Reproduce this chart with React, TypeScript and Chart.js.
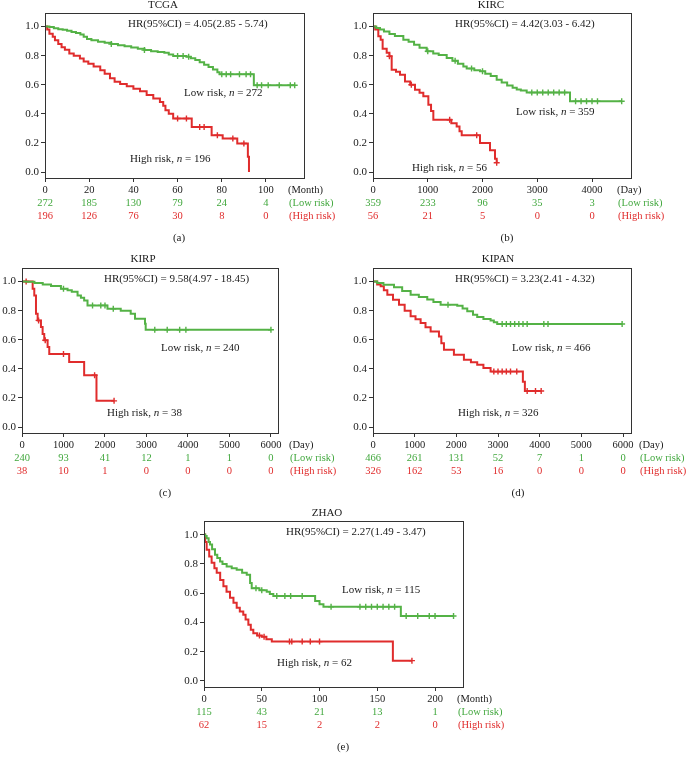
import React, { useEffect, useRef } from "react";
import { Chart, registerables } from "chart.js";
Chart.register(...registerables);

const FONT = '"Liberation Serif", "DejaVu Serif", serif';
const GREEN = "rgb(84,178,70)";
const RED = "rgb(224,44,44)";
const TXT_GREEN = "rgb(66,168,62)";
const TXT_RED = "rgb(224,44,44)";
const INK = "#1a1a1a";

const Y_TICKS = [0, 0.2, 0.4, 0.6, 0.8, 1.0];

// ---- TCGA (months) ----
const TCGA_TICKS = [0, 20, 40, 60, 80, 100];
const TCGA_RISK_LOW = [272, 185, 130, 79, 24, 4];
const TCGA_RISK_HIGH = [196, 126, 76, 30, 8, 0];
const TCGA_LOW = [
  [0, 1], [2, 0.996], [4, 0.989], [6, 0.982], [8, 0.978], [10, 0.971], [12, 0.963], [14, 0.955],
  [16, 0.945], [17.5, 0.93], [19, 0.915], [21, 0.905], [24, 0.895], [27, 0.888], [30, 0.88, 1],
  [33, 0.872], [36, 0.865], [39, 0.856], [42, 0.848], [45, 0.838, 1], [48, 0.83], [51, 0.825],
  [54, 0.82], [56, 0.808], [58, 0.797], [60, 0.797, 1], [62.5, 0.797, 1], [64, 0.793], [65, 0.793, 1],
  [66, 0.782], [68, 0.77], [70, 0.755], [72, 0.738], [74, 0.722], [76, 0.705], [78, 0.685],
  [79, 0.672], [80, 0.672, 1], [82, 0.672, 1], [84, 0.672, 1], [88, 0.672, 1], [91, 0.672, 1],
  [93, 0.672, 1], [94.5, 0.596], [96, 0.596, 1], [98, 0.596, 1], [101, 0.596, 1], [106, 0.596, 1],
  [111, 0.596, 1], [113, 0.596, 1],
];
const TCGA_HIGH = [
  [0, 1], [1, 0.98], [2, 0.95], [3.5, 0.93], [4.5, 0.905], [6, 0.88], [7.5, 0.858], [9, 0.84],
  [11, 0.815], [13, 0.8], [15.8, 0.78], [17.5, 0.76], [19.6, 0.744], [22, 0.725], [25, 0.7],
  [27, 0.675], [29.4, 0.645], [31.5, 0.62], [34, 0.605], [37, 0.59], [40, 0.573], [43, 0.555],
  [46, 0.53], [49, 0.505], [52, 0.482], [53.5, 0.455], [54.5, 0.425], [56, 0.4], [58, 0.368],
  [60, 0.368, 1], [64, 0.368, 1], [66.4, 0.31], [70, 0.31, 1], [72, 0.31, 1], [75.4, 0.253],
  [78, 0.253, 1], [80.4, 0.23], [85, 0.23, 1], [87, 0.196], [90, 0.196, 1], [91.8, 0.105],
  [92.3, 0],
];

// ---- KIRC (days) ----
const KIRC_TICKS = [0, 1000, 2000, 3000, 4000];
const KIRC_RISK_LOW = [359, 233, 96, 35, 3];
const KIRC_RISK_HIGH = [56, 21, 5, 0, 0];
const KIRC_LOW = [
  [0, 1], [60, 0.99], [128, 0.979], [200, 0.965], [300, 0.948], [400, 0.935], [554, 0.91],
  [650, 0.895], [750, 0.875], [850, 0.855], [980, 0.83], [1000, 0.83, 1], [1100, 0.815],
  [1200, 0.805], [1346, 0.784], [1450, 0.765], [1500, 0.765, 1], [1550, 0.745], [1650, 0.725],
  [1711, 0.712], [1800, 0.712, 1], [1850, 0.7], [1954, 0.692], [2000, 0.692, 1], [2050, 0.675],
  [2150, 0.66], [2259, 0.635], [2350, 0.615], [2450, 0.595], [2550, 0.58], [2625, 0.568],
  [2700, 0.56], [2807, 0.547], [2900, 0.547, 1], [3000, 0.547, 1], [3100, 0.547, 1],
  [3200, 0.547, 1], [3300, 0.547, 1], [3400, 0.547, 1], [3500, 0.547, 1], [3598, 0.486],
  [3700, 0.486, 1], [3800, 0.486, 1], [3900, 0.486, 1], [4000, 0.486, 1], [4100, 0.486, 1],
  [4542, 0.486, 1],
];
const KIRC_HIGH = [
  [0, 1], [40, 0.98], [97, 0.933], [140, 0.91], [176, 0.848], [250, 0.82], [300, 0.796, 1],
  [341, 0.703], [420, 0.69], [493, 0.669], [584, 0.623], [680, 0.6], [700, 0.6, 1], [767, 0.566],
  [850, 0.545], [919, 0.52], [1011, 0.462], [1060, 0.42], [1102, 0.359], [1346, 0.359],
  [1400, 0.359, 1], [1430, 0.335], [1528, 0.313], [1580, 0.28], [1620, 0.253], [1894, 0.253, 1],
  [1954, 0.2], [2106, 0.2], [2137, 0.15], [2228, 0.092], [2259, 0.064, 1],
];

// ---- KIRP (days) ----
const KIRP_TICKS = [0, 1000, 2000, 3000, 4000, 5000, 6000];
const KIRP_RISK_LOW = [240, 93, 41, 12, 1, 1, 0];
const KIRP_RISK_HIGH = [38, 10, 1, 0, 0, 0, 0];
const KIRP_LOW = [
  [0, 1], [100, 0.998], [300, 0.99], [500, 0.98], [700, 0.97], [938, 0.95], [1000, 0.95, 1],
  [1098, 0.94], [1200, 0.93], [1339, 0.904], [1420, 0.888], [1498, 0.87], [1579, 0.836],
  [1700, 0.836, 1], [1899, 0.836, 1], [2000, 0.836, 1], [2060, 0.813], [2200, 0.813, 1],
  [2380, 0.8], [2620, 0.778], [2724, 0.744], [2964, 0.71], [2981, 0.669], [3200, 0.669, 1],
  [3500, 0.669, 1], [3800, 0.669, 1], [3950, 0.669, 1], [6000, 0.669, 1],
];
const KIRP_HIGH = [
  [0, 1], [100, 1, 1], [216, 1], [257, 0.95], [296, 0.904], [337, 0.778], [377, 0.733],
  [400, 0.733, 1], [457, 0.687], [497, 0.64], [536, 0.596], [560, 0.596, 1], [617, 0.55],
  [657, 0.502], [1000, 0.502, 1], [1137, 0.447], [1498, 0.356], [1750, 0.356, 1], [1795, 0.18],
  [2219, 0.18, 1],
];

// ---- KIPAN (days) ----
const KIPAN_TICKS = [0, 1000, 2000, 3000, 4000, 5000, 6000];
const KIPAN_RISK_LOW = [466, 261, 131, 52, 7, 1, 0];
const KIPAN_RISK_HIGH = [326, 162, 53, 16, 0, 0, 0];
const KIPAN_LOW = [
  [0, 1], [100, 0.99], [250, 0.978], [504, 0.96], [700, 0.935], [903, 0.91], [1100, 0.893],
  [1302, 0.876], [1450, 0.86], [1623, 0.841], [1800, 0.841, 1], [2022, 0.834], [2150, 0.815],
  [2262, 0.795], [2400, 0.772], [2501, 0.756], [2650, 0.742], [2822, 0.733], [2900, 0.72],
  [2981, 0.708], [3100, 0.708, 1], [3200, 0.708, 1], [3300, 0.708, 1], [3400, 0.708, 1],
  [3500, 0.708, 1], [3600, 0.708, 1], [3700, 0.708, 1], [4100, 0.708, 1], [4200, 0.708, 1],
  [5979, 0.708, 1],
];
const KIPAN_HIGH = [
  [0, 1], [100, 0.98], [184, 0.968], [260, 0.94], [344, 0.91], [480, 0.875], [624, 0.841],
  [760, 0.8], [903, 0.761], [1020, 0.74], [1143, 0.715], [1260, 0.685], [1383, 0.657],
  [1583, 0.623], [1640, 0.575], [1703, 0.531], [1942, 0.497], [2182, 0.462], [2350, 0.445],
  [2501, 0.428], [2650, 0.405], [2822, 0.381], [2900, 0.381, 1], [3000, 0.381, 1],
  [3100, 0.381, 1], [3200, 0.381, 1], [3300, 0.381, 1], [3450, 0.381, 1], [3597, 0.312],
  [3645, 0.248], [3700, 0.248, 1], [3900, 0.248, 1], [4036, 0.248, 1],
];

// ---- ZHAO (months) ----
const ZHAO_TICKS = [0, 50, 100, 150, 200];
const ZHAO_RISK_LOW = [115, 43, 21, 13, 1];
const ZHAO_RISK_HIGH = [62, 15, 2, 2, 0];
const ZHAO_LOW = [
  [0, 1], [1, 0.99], [2.3, 0.975], [4, 0.95], [5.2, 0.932], [7, 0.9], [9.5, 0.863], [11.5, 0.84],
  [13.9, 0.817], [16, 0.8], [19.6, 0.783], [24, 0.77], [28.3, 0.76], [33, 0.74], [37, 0.726],
  [39.9, 0.669], [41.3, 0.634], [45, 0.634, 1], [48, 0.62], [50, 0.62, 1], [54.3, 0.61],
  [57, 0.595], [60, 0.581], [63, 0.581, 1], [70, 0.581, 1], [75, 0.581, 1], [85, 0.581, 1],
  [96.2, 0.546], [100, 0.525], [103.4, 0.507], [110, 0.507, 1], [135, 0.507, 1], [140, 0.507, 1],
  [145, 0.507, 1], [150, 0.507, 1], [155, 0.507, 1], [160, 0.507, 1], [165, 0.507, 1],
  [170.4, 0.444], [175, 0.444, 1], [185, 0.444, 1], [195, 0.444, 1], [200, 0.444, 1],
  [216, 0.444, 1],
];
const ZHAO_HIGH = [
  [0, 1], [1, 0.95], [2.3, 0.897], [4.5, 0.85], [6.6, 0.808], [9, 0.77], [11, 0.74], [14, 0.69],
  [16.8, 0.648], [19.5, 0.61], [22.5, 0.568], [25.5, 0.535], [28.3, 0.5], [31, 0.475],
  [34, 0.452], [36, 0.42], [38.4, 0.384], [40.5, 0.35], [42.7, 0.326], [46, 0.31],
  [48, 0.31, 1], [50, 0.303], [52, 0.303, 1], [54, 0.285], [58.7, 0.269], [74, 0.269, 1],
  [76, 0.269, 1], [85, 0.269, 1], [92, 0.269, 1], [100, 0.269, 1], [163.5, 0.139],
  [180, 0.139, 1],
];

type Box = { l: number; t: number; r: number; b: number };
type PanelCfg = {
  key: string; title: string; hr: string; unit: string; tag: string;
  low: number[][]; high: number[][]; ticks: number[]; riskLow: number[]; riskHigh: number[];
  nLow: number; nHigh: number; xMax: number;
  canvas: { left: number; top: number; w: number; h: number };
  box: Box; hrPos: number[]; lowPos: number[]; highPos: number[];
  titlePos: number[]; tagX: number; unitX: number;
};

const PANELS: PanelCfg[] = [
  {
    key: "a", title: "TCGA", hr: "HR(95%CI) = 4.05(2.85 - 5.74)", unit: "(Month)", tag: "(a)",
    low: TCGA_LOW, high: TCGA_HIGH, ticks: TCGA_TICKS, riskLow: TCGA_RISK_LOW, riskHigh: TCGA_RISK_HIGH,
    nLow: 272, nHigh: 196, xMax: 117.2,
    canvas: { left: 0, top: 0, w: 344, h: 246 }, box: { l: 45, t: 13, r: 304, b: 178 },
    hrPos: [128, 24], lowPos: [184, 93], highPos: [130, 159], titlePos: [163, 8], tagX: 179, unitX: 288,
  },
  {
    key: "b", title: "KIRC", hr: "HR(95%CI) = 4.42(3.03 - 6.42)", unit: "(Day)", tag: "(b)",
    low: KIRC_LOW, high: KIRC_HIGH, ticks: KIRC_TICKS, riskLow: KIRC_RISK_LOW, riskHigh: KIRC_RISK_HIGH,
    nLow: 359, nHigh: 56, xMax: 4712,
    canvas: { left: 344, top: 0, w: 344, h: 246 }, box: { l: 373, t: 13, r: 631, b: 178 },
    hrPos: [455, 24], lowPos: [516, 112], highPos: [412, 168], titlePos: [491, 8], tagX: 507, unitX: 617,
  },
  {
    key: "c", title: "KIRP", hr: "HR(95%CI) = 9.58(4.97 - 18.45)", unit: "(Day)", tag: "(c)",
    low: KIRP_LOW, high: KIRP_HIGH, ticks: KIRP_TICKS, riskLow: KIRP_RISK_LOW, riskHigh: KIRP_RISK_HIGH,
    nLow: 240, nHigh: 38, xMax: 6170,
    canvas: { left: 0, top: 246, w: 344, h: 254 }, box: { l: 22, t: 268, r: 278, b: 433 },
    hrPos: [104, 279], lowPos: [161, 348], highPos: [107, 413], titlePos: [143, 262], tagX: 165, unitX: 289,
  },
  {
    key: "d", title: "KIPAN", hr: "HR(95%CI) = 3.23(2.41 - 4.32)", unit: "(Day)", tag: "(d)",
    low: KIPAN_LOW, high: KIPAN_HIGH, ticks: KIPAN_TICKS, riskLow: KIPAN_RISK_LOW, riskHigh: KIPAN_RISK_HIGH,
    nLow: 466, nHigh: 326, xMax: 6192,
    canvas: { left: 344, top: 246, w: 344, h: 254 }, box: { l: 373, t: 268, r: 631, b: 433 },
    hrPos: [455, 279], lowPos: [512, 348], highPos: [458, 413], titlePos: [498, 262], tagX: 518, unitX: 639,
  },
  {
    key: "e", title: "ZHAO", hr: "HR(95%CI) = 2.27(1.49 - 3.47)", unit: "(Month)", tag: "(e)",
    low: ZHAO_LOW, high: ZHAO_HIGH, ticks: ZHAO_TICKS, riskLow: ZHAO_RISK_LOW, riskHigh: ZHAO_RISK_HIGH,
    nLow: 115, nHigh: 62, xMax: 224.2,
    canvas: { left: 0, top: 500, w: 688, h: 262 }, box: { l: 204, t: 521, r: 463, b: 687 },
    hrPos: [286, 532], lowPos: [342, 590], highPos: [277, 663], titlePos: [327, 516], tagX: 343, unitX: 457,
  },
];

const Y_MIN = -0.041;
const Y_MAX = 1.093;

function drawGroupLabel(ctx: CanvasRenderingContext2D, x: number, y: number, label: string, n: number) {
  ctx.textAlign = "left";
  ctx.textBaseline = "middle";
  ctx.fillStyle = INK;
  ctx.font = `11px ${FONT}`;
  const a = `${label}, `;
  ctx.fillText(a, x, y);
  let cx = x + ctx.measureText(a).width;
  ctx.font = `italic 11px ${FONT}`;
  ctx.fillText("n", cx, y);
  cx += ctx.measureText("n").width;
  ctx.font = `11px ${FONT}`;
  ctx.fillText(` = ${n}`, cx, y);
}

function makeConfig(p: PanelCfg): any {
  const ox = p.canvas.left;
  const oy = p.canvas.top;
  const boxL = p.box.l - ox, boxT = p.box.t - oy, boxR = p.box.r - ox, boxB = p.box.b - oy;
  const toPts = (arr: number[][]) => arr.map((d) => ({ x: d[0], y: d[1], c: d[2] ? 1 : 0 }));
  const radius = (ctx: any) => (ctx.raw && ctx.raw.c ? 3 : 0);

  const overlay = {
    id: "overlay-" + p.key,
    afterDraw(chart: any) {
      const ctx: CanvasRenderingContext2D = chart.ctx;
      const ca = chart.chartArea;
      const xs = chart.scales.x;
      ctx.save();
      ctx.strokeStyle = "#333";
      ctx.lineWidth = 1;
      ctx.strokeRect(Math.round(ca.left) + 0.5, Math.round(ca.top) + 0.5, Math.round(ca.right - ca.left), Math.round(ca.bottom - ca.top));

      // title
      ctx.fillStyle = INK;
      ctx.font = `11px ${FONT}`;
      ctx.textAlign = "center";
      ctx.textBaseline = "alphabetic";
      ctx.fillText(p.title, p.titlePos[0] - ox, p.titlePos[1] - oy);

      // HR
      ctx.textAlign = "left";
      ctx.textBaseline = "middle";
      ctx.fillText(p.hr, p.hrPos[0] - ox, p.hrPos[1] - oy);

      drawGroupLabel(ctx, p.lowPos[0] - ox, p.lowPos[1] - oy, "Low risk", p.nLow);
      drawGroupLabel(ctx, p.highPos[0] - ox, p.highPos[1] - oy, "High risk", p.nHigh);

      // unit
      ctx.font = `10.5px ${FONT}`;
      ctx.fillStyle = INK;
      ctx.textAlign = "left";
      ctx.textBaseline = "middle";
      const tickY = ca.bottom + 12;
      const r1 = ca.bottom + 25;
      const r2 = ca.bottom + 38.5;
      ctx.fillText(p.unit, p.unitX - ox, tickY);

      // risk table
      ctx.textAlign = "center";
      p.ticks.forEach((t, i) => {
        const px = xs.getPixelForValue(t);
        ctx.fillStyle = TXT_GREEN;
        ctx.fillText(String(p.riskLow[i]), px, r1);
        ctx.fillStyle = TXT_RED;
        ctx.fillText(String(p.riskHigh[i]), px, r2);
      });
      ctx.textAlign = "left";
      ctx.fillStyle = TXT_GREEN;
      ctx.fillText("(Low risk)", p.unitX - ox + 1, r1);
      ctx.fillStyle = TXT_RED;
      ctx.fillText("(High risk)", p.unitX - ox + 1, r2);

      // panel tag
      ctx.fillStyle = INK;
      ctx.font = `11px ${FONT}`;
      ctx.textAlign = "center";
      ctx.fillText(p.tag, p.tagX - ox, ca.bottom + 60);
      ctx.restore();
    },
  };

  const xFont = { family: FONT, size: 10.5 };
  const yFont = { family: FONT, size: 11 };
  return {
    type: "line",
    data: {
      datasets: [
        {
          data: toPts(p.low), borderColor: GREEN, backgroundColor: GREEN, borderWidth: 2,
          stepped: true, fill: false, pointStyle: "cross", pointRadius: radius,
          pointBorderWidth: 1.4, pointBorderColor: GREEN, pointHoverRadius: 0,
        },
        {
          data: toPts(p.high), borderColor: RED, backgroundColor: RED, borderWidth: 2,
          stepped: true, fill: false, pointStyle: "cross", pointRadius: radius,
          pointBorderWidth: 1.4, pointBorderColor: RED, pointHoverRadius: 0,
        },
      ],
    },
    options: {
      animation: false,
      responsive: false,
      maintainAspectRatio: false,
      events: [],
      layout: { padding: { left: 0, top: boxT, right: p.canvas.w - boxR, bottom: 0 } },
      plugins: { legend: { display: false }, tooltip: { enabled: false }, title: { display: false } },
      scales: {
        x: {
          type: "linear", min: 0, max: p.xMax,
          afterBuildTicks: (s: any) => { s.ticks = p.ticks.map((v) => ({ value: v })); },
          afterFit: (s: any) => { s.height = p.canvas.h - boxB; },
          grid: { display: true, drawOnChartArea: false, drawTicks: true, tickLength: 4, color: "#333", lineWidth: 1 },
          border: { display: false },
          ticks: { font: xFont, color: INK, padding: 2, maxRotation: 0, autoSkip: false, callback: (v: any) => String(v) },
        },
        y: {
          type: "linear", min: Y_MIN, max: Y_MAX,
          afterBuildTicks: (s: any) => { s.ticks = Y_TICKS.map((v) => ({ value: v })); },
          afterFit: (s: any) => { s.width = boxL; },
          grid: { display: true, drawOnChartArea: false, drawTicks: true, tickLength: 4, color: "#333", lineWidth: 1 },
          border: { display: false },
          ticks: { font: yFont, color: INK, padding: 2, autoSkip: false, callback: (v: any) => Number(v).toFixed(1) },
        },
      },
    },
    plugins: [overlay],
  };
}

function Panel({ p }: { p: PanelCfg }) {
  const ref = useRef<HTMLCanvasElement>(null);
  useEffect(() => {
    const chart = new Chart(ref.current as HTMLCanvasElement, makeConfig(p));
    return () => chart.destroy();
  }, [p]);
  return (
    <canvas
      ref={ref}
      width={p.canvas.w}
      height={p.canvas.h}
      style={{ position: "absolute", left: p.canvas.left, top: p.canvas.top, width: p.canvas.w, height: p.canvas.h }}
    />
  );
}

export default function App() {
  return (
    <div style={{ position: "absolute", left: 0, top: 0, width: 688, height: 762, background: "#fff", overflow: "hidden" }}>
      {PANELS.map((p) => (
        <Panel key={p.key} p={p} />
      ))}
    </div>
  );
}
